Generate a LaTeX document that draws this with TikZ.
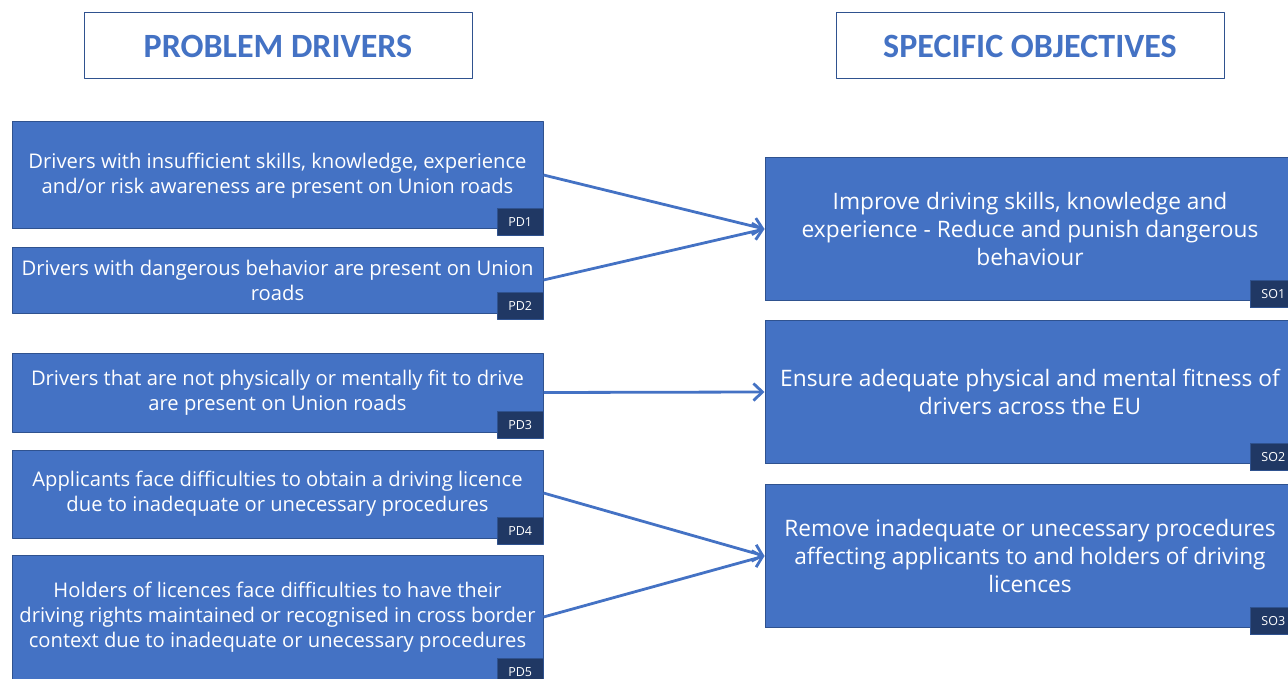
\documentclass[tikz,border=0pt]{standalone}
\usepackage{fontspec}
\setmainfont{Open Sans}
\newfontfamily\headfont{Carlito}
\usetikzlibrary{arrows.meta}
\definecolor{boxblue}{HTML}{4472C4}
\definecolor{boxline}{HTML}{2F528F}
\definecolor{tagblue}{HTML}{203864}

\begin{document}
\begin{tikzpicture}[x=1pt,y=-1pt, line join=round,
    head/.style={draw=boxline, line width=1pt, fill=white, text=boxblue, minimum width=388pt, minimum height=66pt, font=\headfont\fontsize{34}{38}\selectfont\bfseries},
    pd/.style={draw=boxline, line width=1pt, fill=boxblue, text=white, minimum width=531pt, align=center, font=\fontsize{20.2}{25}\selectfont},
    so/.style={draw=boxline, line width=1pt, fill=boxblue, text=white, minimum width=530pt, minimum height=143pt, align=center, font=\fontsize{22.7}{28}\selectfont},
    tag/.style={draw=boxline, line width=0.6pt, fill=tagblue, text=white, minimum width=46pt, minimum height=27pt, inner sep=0pt, font=\fontsize{12.5}{14}\selectfont},
    link/.style={draw=boxblue, line width=2.8pt, -{Straight Barb[length=9pt,width=17pt,line width=2.8pt]}}]
    \useasboundingbox (0,0) rectangle (1288,679);
    \clip (0,0) rectangle (1288,679);

    % headers
    \node[head] (hpd) at (278,46) {PROBLEM DRIVERS};
    \node[head] (hso) at (1030,46) {SPECIFIC OBJECTIVES};

    % problem drivers
    \node[pd, minimum height=107pt] (pd1) at (277.5,175.5) {Drivers with insufficient skills, knowledge, experience\\and/or risk awareness are present on Union roads};
    \node[pd, minimum height=65pt] (pd2) at (277.5,280.5) {Drivers with dangerous behavior are present on Union\\roads};
    \node[pd, minimum height=79pt] (pd3) at (277.5,392.5) {Drivers that are not physically or mentally fit to drive\\are present on Union roads};
    \node[pd, minimum height=88pt] (pd4) at (277.5,494) {Applicants face difficulties to obtain a driving licence\\due to inadequate or unecessary procedures};
    \node[pd, minimum height=124pt] (pd5) at (277.5,617) {Holders of licences face difficulties to have their\\driving rights maintained or recognised in cross border\\context due to inadequate or unecessary procedures};

    % specific objectives
    \node[so] (so1) at (1030,229) {Improve driving skills, knowledge and\\experience - Reduce and punish dangerous\\behaviour};
    \node[so] (so2) at (1030,392) {Ensure adequate physical and mental fitness of\\drivers across the EU};
    \node[so] (so3) at (1030,556) {Remove inadequate or unecessary procedures\\affecting applicants to and holders of driving\\licences};

    % tags
    \foreach \n/\t in {pd1/PD1, pd2/PD2, pd3/PD3, pd4/PD4, pd5/PD5}
        \node[tag, anchor=south east] (t\n) at ([yshift=-6pt]\n.south east) {\t};
    \foreach \n/\t in {so1/SO1, so2/SO2, so3/SO3}
        \node[tag, anchor=south west] (t\n) at ([yshift=-7pt]\n.south east -| 1250,0) {\t};

    % links
    \draw[link] (pd1.east |- 0,175) -- (so1.west);
    \draw[link] (pd2.east |- 0,280) -- (so1.west);
    \draw[link] (pd3.east) -- (so2.west);
    \draw[link] (pd4.east |- 0,493) -- (so3.west);
    \draw[link] (pd5.east) -- (so3.west);
\end{tikzpicture}
\end{document}
